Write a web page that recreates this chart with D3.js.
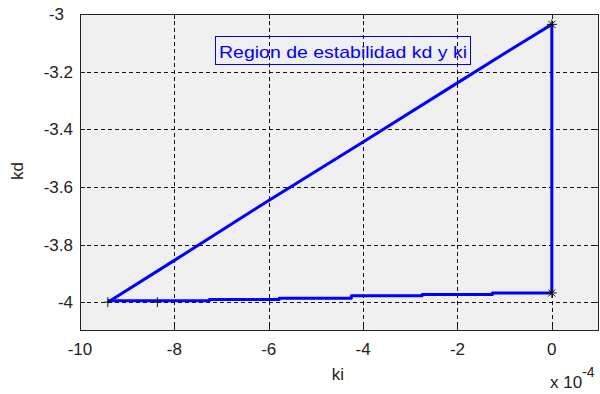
<!DOCTYPE html>
<html>
<head>
<meta charset="utf-8">
<script src="https://cdn.jsdelivr.net/npm/d3@7"></script>
<style>
  html, body { margin: 0; padding: 0; background: #ffffff; }
  svg { display: block; }
</style>
</head>
<body>
<svg id="chart" width="600" height="394"></svg>
<script>
// ki values are in units of 1e-4 (axis carries the "x 10^-4" multiplier)
const xTicks = [-10, -8, -6, -4, -2, 0];
const yTicks = [-3, -3.2, -3.4, -3.6, -3.8, -4];
const xTickLabels = ["-10", "-8", "-6", "-4", "-2", "0"];
const yTickLabels = ["-3", "-3.2", "-3.4", "-3.6", "-3.8", "-4"];

// upper edge of the stability region (kd grows with ki)
const kiUpper = [-9.41, -8.0, -6.0, -4.0, -2.0, -0.6, 0];
const kdUpper = [-4.0, -3.855, -3.647, -3.444, -3.239, -3.096, -3.036];

// lower edge (nearly flat, stepping up slightly)
const kiLower = [-9.41, -7.26, -7.26, -5.78, -5.78, -4.25, -4.25, -2.75, -2.75, -1.26, -1.26, 0];
const kdLower = [-3.995, -3.995, -3.991, -3.991, -3.986, -3.986, -3.978, -3.978, -3.973, -3.973, -3.968, -3.968];

// closing vertical edge at ki = 0
const kiRight = [0, 0];
const kdRight = [-3.968, -3.036];

// point markers
const kiPlus = [-9.41, -8.36];
const kdPlus = [-4.0, -4.0];
const kiStar = [0, 0];
const kdStar = [-3.036, -3.968];

const svg = d3.select("#chart");
const pLeft = 80, pRight = 599, pTop = 14, pBottom = 331;

const x = d3.scaleLinear().domain([-10, 1]).range([pLeft, pRight]);
const y = d3.scaleLinear().domain([-4.1, -3]).range([pBottom, pTop]);

const font = "'Liberation Sans', Arial, sans-serif";
const fs = 17;

// plot background
svg.append("rect")
  .attr("x", pLeft).attr("y", pTop)
  .attr("width", pRight - pLeft).attr("height", pBottom - pTop)
  .attr("fill", "#efefef");

// grid lines
const grid = svg.append("g")
  .attr("stroke", "#111").attr("stroke-width", 1)
  .attr("stroke-dasharray", "4,3").attr("shape-rendering", "crispEdges");
grid.selectAll(".gx").data(xTicks.filter(d => d > -10)).join("line")
  .attr("x1", d => Math.round(x(d)) + 0.5).attr("x2", d => Math.round(x(d)) + 0.5)
  .attr("y1", pTop).attr("y2", pBottom);
grid.selectAll(".gy").data(yTicks).join("line")
  .attr("y1", d => Math.round(y(d)) + 0.5).attr("y2", d => Math.round(y(d)) + 0.5)
  .attr("x1", pLeft).attr("x2", pRight);

// axes frame
const frame = svg.append("g").attr("stroke", "#222").attr("stroke-width", 1)
  .attr("shape-rendering", "crispEdges").attr("fill", "none");
frame.append("rect")
  .attr("x", pLeft + 0.5).attr("y", pTop + 0.5)
  .attr("width", pRight - pLeft - 1).attr("height", pBottom - pTop - 1);

// inside ticks
const tk = 5;
xTicks.forEach(d => {
  const px = Math.round(x(d)) + 0.5;
  frame.append("line").attr("x1", px).attr("x2", px).attr("y1", pBottom).attr("y2", pBottom - tk);
  frame.append("line").attr("x1", px).attr("x2", px).attr("y1", pTop).attr("y2", pTop + tk);
});
yTicks.forEach(d => {
  const py = Math.round(y(d)) + 0.5;
  frame.append("line").attr("y1", py).attr("y2", py).attr("x1", pLeft).attr("x2", pLeft + tk);
  frame.append("line").attr("y1", py).attr("y2", py).attr("x1", pRight).attr("x2", pRight - tk);
});

// tick labels
svg.append("g").selectAll("text").data(xTicks).join("text")
  .attr("x", d => x(d)).attr("y", 355)
  .attr("text-anchor", "middle")
  .attr("font-family", font).attr("font-size", fs).attr("fill", "#222")
  .text((d, i) => xTickLabels[i]);
svg.append("g").selectAll("text").data(yTicks).join("text")
  .attr("x", d => d === -3 ? 64 : 73).attr("y", d => y(d) + 6)
  .attr("text-anchor", "end")
  .attr("font-family", font).attr("font-size", fs).attr("fill", "#222")
  .text((d, i) => yTickLabels[i]);

// axis titles
svg.append("text").attr("x", 338).attr("y", 380).attr("text-anchor", "middle")
  .attr("font-family", font).attr("font-size", fs).attr("fill", "#222").text("ki");
svg.append("text").attr("transform", "translate(23,171) rotate(-90)")
  .attr("text-anchor", "middle")
  .attr("font-family", font).attr("font-size", fs).attr("fill", "#222").text("kd");
const mult = svg.append("text").attr("x", 550).attr("y", 388)
  .attr("font-family", font).attr("font-size", fs).attr("fill", "#222");
mult.append("tspan").text("x 10");
mult.append("tspan").attr("dy", -11).attr("font-size", 14).text("-4");

// region boundary lines
const line = d3.line().x(d => x(d[0])).y(d => y(d[1]));
const seg = (ks, kd) => ks.map((k, i) => [k, kd[i]]);
const lines = svg.append("g").attr("fill", "none").attr("stroke", "#0000ff")
  .attr("stroke-width", 3).attr("stroke-linejoin", "round");
lines.append("path").attr("d", line(seg(kiUpper, kdUpper)));
lines.append("path").attr("d", line(seg(kiLower, kdLower)));
lines.append("path").attr("d", line(seg(kiRight, kdRight)));

// markers
const mk = svg.append("g").attr("stroke", "#111").attr("stroke-width", 1).attr("fill", "none");
seg(kiPlus, kdPlus).forEach(p => {
  const px = x(p[0]), py = y(p[1]);
  mk.append("line").attr("x1", px).attr("x2", px).attr("y1", py - 5).attr("y2", py + 5);
  mk.append("line").attr("x1", px - 4).attr("x2", px + 4).attr("y1", py).attr("y2", py);
});
seg(kiStar, kdStar).forEach(p => {
  const px = x(p[0]), py = y(p[1]);
  mk.append("line").attr("x1", px).attr("x2", px).attr("y1", py - 5).attr("y2", py + 5);
  mk.append("line").attr("x1", px - 5).attr("x2", px + 5).attr("y1", py).attr("y2", py);
  mk.append("line").attr("x1", px - 3.5).attr("x2", px + 3.5).attr("y1", py - 3.5).attr("y2", py + 3.5);
  mk.append("line").attr("x1", px - 3.5).attr("x2", px + 3.5).attr("y1", py + 3.5).attr("y2", py - 3.5);
});

// title box
svg.append("rect").attr("x", 215.5).attr("y", 36.5).attr("width", 255).attr("height", 28)
  .attr("fill", "none").attr("stroke", "#0000ff").attr("stroke-width", 1);
svg.append("text").attr("x", 219).attr("y", 57.5)
  .attr("font-family", font).attr("font-size", 17).attr("fill", "#0000ff")
  .attr("textLength", 248).attr("lengthAdjust", "spacingAndGlyphs")
  .text("Region de estabilidad kd y ki");
</script>
</body>
</html>
